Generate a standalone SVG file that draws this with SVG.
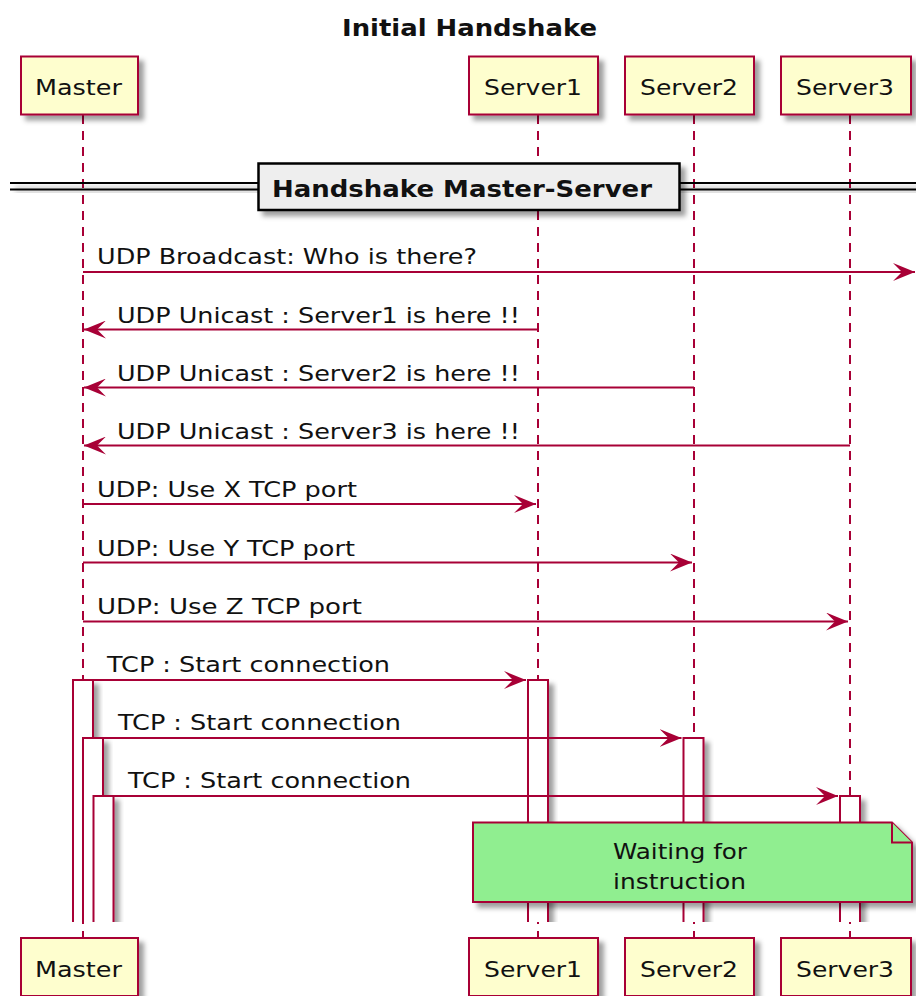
<svg xmlns="http://www.w3.org/2000/svg" width="916" height="996" viewBox="0 0 916 996">
  <defs>
    <filter id="shadow" x="-50%" y="-50%" width="200%" height="200%">
      <feDropShadow dx="5" dy="5" stdDeviation="2.5" flood-color="#000" flood-opacity="0.38"/>
    </filter>
    <clipPath id="actClip">
      <rect x="0" y="0" width="916" height="922"/>
    </clipPath>
    <marker id="head" viewBox="0 0 22 18" refX="22" refY="9" markerWidth="22" markerHeight="18" markerUnits="userSpaceOnUse" orient="auto">
      <path d="M0,0 L22,9 L0,18 L9,9 Z" fill="#A80036"/>
    </marker>
    <style>
      text { font-family: "DejaVu Sans", sans-serif; fill: #111; }
      .title { font-size: 22.5px; font-weight: bold; }
      .part rect { fill: #FEFECE; stroke: #A80036; stroke-width: 2; filter: url(#shadow); }
      .part text { font-size: 22px; }
      .life { stroke: #A80036; stroke-width: 2; stroke-dasharray: 9 7; fill: none; }
      .msg line { stroke: #A80036; stroke-width: 2; marker-end: url(#head); }
      .msg text { font-size: 22px; }
      .act { fill: #FFFFFF; stroke: #A80036; stroke-width: 2; filter: url(#shadow); }
      .divline { stroke: #000; stroke-width: 2; }
      .divbox { fill: #EEEEEE; stroke: #000; stroke-width: 2.5; filter: url(#shadow); }
      .divtext { font-size: 22.5px; font-weight: bold; }
      .note path { fill: #90EE90; stroke: #A80036; stroke-width: 2; }
      .note text { font-size: 22px; }
    </style>
  </defs>

  <rect width="916" height="996" fill="#FFFFFF"/>

  <text class="title" x="342" y="36" textLength="255" lengthAdjust="spacingAndGlyphs">Initial Handshake</text>

  <!-- lifelines -->
  <g id="lifelines">
    <line class="life" x1="83" y1="115" x2="83" y2="938"/>
    <line class="life" x1="538" y1="115" x2="538" y2="938"/>
    <line class="life" x1="694" y1="115" x2="694" y2="938"/>
    <line class="life" x1="850" y1="115" x2="850" y2="938"/>
  </g>

  <!-- participants, head and foot -->
  <g id="master" class="part">
    <rect x="21" y="56.5" width="117" height="58"/>
    <text x="35" y="95" textLength="87" lengthAdjust="spacingAndGlyphs">Master</text>
    <rect x="21" y="938" width="117" height="58"/>
    <text x="35" y="976.5" textLength="87" lengthAdjust="spacingAndGlyphs">Master</text>
  </g>
  <g id="server1" class="part">
    <rect x="469" y="56.5" width="129" height="58"/>
    <text x="484" y="95" textLength="98" lengthAdjust="spacingAndGlyphs">Server1</text>
    <rect x="469" y="938" width="129" height="58"/>
    <text x="484" y="976.5" textLength="98" lengthAdjust="spacingAndGlyphs">Server1</text>
  </g>
  <g id="server2" class="part">
    <rect x="625" y="56.5" width="129" height="58"/>
    <text x="640" y="95" textLength="98" lengthAdjust="spacingAndGlyphs">Server2</text>
    <rect x="625" y="938" width="129" height="58"/>
    <text x="640" y="976.5" textLength="98" lengthAdjust="spacingAndGlyphs">Server2</text>
  </g>
  <g id="server3" class="part">
    <rect x="781" y="56.5" width="130" height="58"/>
    <text x="796" y="95" textLength="98" lengthAdjust="spacingAndGlyphs">Server3</text>
    <rect x="781" y="938" width="130" height="58"/>
    <text x="796" y="976.5" textLength="98" lengthAdjust="spacingAndGlyphs">Server3</text>
  </g>

  <!-- section divider -->
  <g id="divider">
    <g filter="url(#shadow)">
      <line class="divline" x1="10" y1="183" x2="916" y2="183"/>
      <line class="divline" x1="10" y1="189.5" x2="916" y2="189.5"/>
    </g>
    <rect class="divbox" x="258.5" y="163.5" width="421" height="46.5"/>
    <text class="divtext" x="272" y="197" textLength="380" lengthAdjust="spacingAndGlyphs">Handshake Master-Server</text>
  </g>

  <!-- activation bars, left open at the bottom -->
  <g id="activations" clip-path="url(#actClip)">
    <rect class="act" x="73" y="680" width="20" height="270"/>
    <rect class="act" x="83" y="738" width="20" height="270"/>
    <rect class="act" x="93.5" y="796" width="20" height="270"/>
    <rect class="act" x="528" y="680" width="20" height="270"/>
    <rect class="act" x="683.5" y="738" width="20" height="270"/>
    <rect class="act" x="840" y="796" width="20" height="270"/>
  </g>

  <!-- messages -->
  <g id="connectors" class="msg">
    <line x1="83" y1="272" x2="915" y2="272"/>
    <text x="97" y="264" textLength="380" lengthAdjust="spacingAndGlyphs">UDP Broadcast: Who is there?</text>

    <line x1="538" y1="329.5" x2="84" y2="329.5"/>
    <text x="117" y="322.5" textLength="403" lengthAdjust="spacingAndGlyphs">UDP Unicast : Server1 is here !!</text>

    <line x1="694" y1="387.5" x2="84" y2="387.5"/>
    <text x="117" y="380.5" textLength="403" lengthAdjust="spacingAndGlyphs">UDP Unicast : Server2 is here !!</text>

    <line x1="850" y1="445.5" x2="84" y2="445.5"/>
    <text x="117" y="438.5" textLength="403" lengthAdjust="spacingAndGlyphs">UDP Unicast : Server3 is here !!</text>

    <line x1="83" y1="504" x2="536" y2="504"/>
    <text x="97" y="497" textLength="260" lengthAdjust="spacingAndGlyphs">UDP: Use X TCP port</text>

    <line x1="83" y1="562.5" x2="692" y2="562.5"/>
    <text x="97" y="555.5" textLength="258" lengthAdjust="spacingAndGlyphs">UDP: Use Y TCP port</text>

    <line x1="83" y1="621.5" x2="848" y2="621.5"/>
    <text x="97" y="614" textLength="265" lengthAdjust="spacingAndGlyphs">UDP: Use Z TCP port</text>

    <line x1="93" y1="680" x2="526" y2="680"/>
    <text x="107" y="672" textLength="283" lengthAdjust="spacingAndGlyphs">TCP : Start connection</text>

    <line x1="103" y1="738" x2="681.5" y2="738"/>
    <text x="118" y="730" textLength="283" lengthAdjust="spacingAndGlyphs">TCP : Start connection</text>

    <line x1="113.5" y1="796" x2="838" y2="796"/>
    <text x="128" y="788" textLength="283" lengthAdjust="spacingAndGlyphs">TCP : Start connection</text>
  </g>

  <!-- note across servers -->
  <g id="note" class="note">
    <path d="M473,822.5 L892,822.5 L912,842.5 L912,902 L473,902 Z" filter="url(#shadow)"/>
    <path d="M892,822.5 L892,842.5 L912,842.5"/>
    <text x="613" y="859" textLength="134" lengthAdjust="spacingAndGlyphs">Waiting for</text>
    <text x="613" y="889" textLength="133" lengthAdjust="spacingAndGlyphs">instruction</text>
  </g>
</svg>
